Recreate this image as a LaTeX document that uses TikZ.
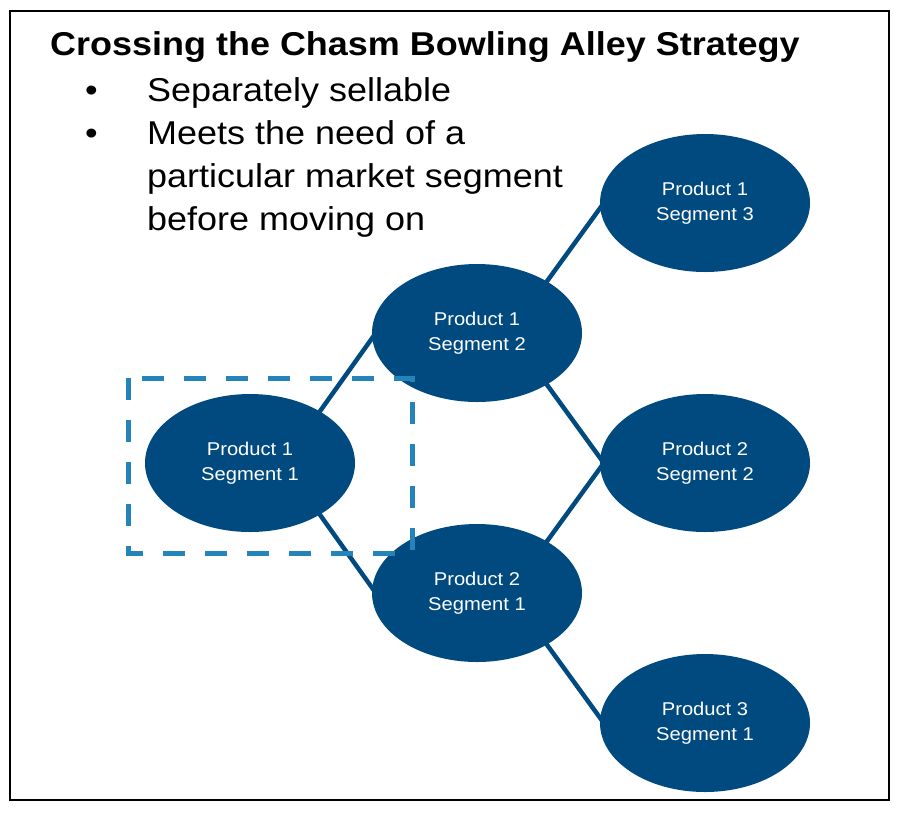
\documentclass[tikz,border=0pt]{standalone}
\usepackage{fontspec}
\setmainfont[FakeStretch=1.09]{Liberation Sans}
\usepackage{xcolor}
\usepackage{tikz}
\usetikzlibrary{shapes.geometric, backgrounds}

\definecolor{alleyblue}{RGB}{0,74,128}
\definecolor{chasmblue}{RGB}{36,132,186}

\begin{document}
\begin{tikzpicture}[x=1pt, y=-1pt,
    segment/.style={ellipse, fill=alleyblue, draw=none, minimum width=210pt, minimum height=138pt,
        inner sep=0pt, text=white, align=center, font=\fontsize{18.5}{25}\selectfont},
    link/.style={alleyblue, line width=4.5pt},
    focusbox/.style={chasmblue, line width=5pt, dash pattern=on 22pt off 20pt},
    heading/.style={anchor=base west, inner sep=0pt, font=\fontsize{33}{40}\selectfont\bfseries},
    bullettext/.style={anchor=base west, inner sep=0pt, font=\fontsize{33}{40}\selectfont}]
    \useasboundingbox (0,0) rectangle (902,812);
    \draw[black, line width=2pt] (10,11) rectangle (889,800);

    \node[heading] (title) at (50,55) {Crossing the Chasm Bowling Alley Strategy};
    \foreach \y/\txt [count=\i] in {101/Separately sellable, 144/Meets the need of a,
        187/particular market segment, 230/before moving on}
        \node[bullettext] (line\i) at (147,\y) {\txt};
    \node[bullettext] (dotA) at (85,101) {\textbullet};
    \node[bullettext] (dotB) at (85,144) {\textbullet};

    \node[segment] (p1s1) at (250,463) {Product 1\\Segment 1};
    \node[segment] (p1s2) at (477,333) {Product 1\\Segment 2};
    \node[segment] (p2s1) at (477,593) {Product 2\\Segment 1};
    \node[segment] (p1s3) at (705,203) {Product 1\\Segment 3};
    \node[segment] (p2s2) at (705,463) {Product 2\\Segment 2};
    \node[segment] (p3s1) at (705,723) {Product 3\\Segment 1};

    \begin{scope}[on background layer]
    \foreach \a/\b/\ang in {p1s1/p1s2/35, p1s1/p2s1/-35, p1s2/p1s3/35, p1s2/p2s2/-35,
        p2s1/p2s2/35, p2s1/p3s1/-35}
        \draw[link] ([shift={(-3,0)}]\a.\ang) -- ([shift={(4,0)}]\b.west);
    \end{scope}

    \draw[focusbox] (128,378) rectangle (412,553);
\end{tikzpicture}
\end{document}
